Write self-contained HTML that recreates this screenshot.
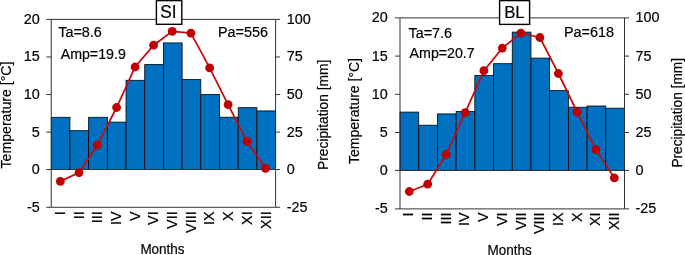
<!DOCTYPE html>
<html><head><meta charset="utf-8"><title>Climate diagrams</title>
<style>
html,body{margin:0;padding:0;background:#fff;}
body{width:685px;height:255px;overflow:hidden;}
svg{display:block;will-change:transform;}
svg text{font-family:"Liberation Sans",sans-serif;font-size:14.4px;fill:#000;stroke:#000;stroke-width:0.18px;}
</style></head><body>
<svg width="685" height="255" viewBox="0 0 685 255">
<rect x="0" y="0" width="685" height="255" fill="#fff"/>
<rect x="51.25" y="117.30" width="18.70" height="52.20" fill="#0070C0" stroke="#000" stroke-width="0.8"/>
<rect x="69.95" y="130.70" width="18.70" height="38.80" fill="#0070C0" stroke="#000" stroke-width="0.8"/>
<rect x="88.64" y="117.30" width="18.70" height="52.20" fill="#0070C0" stroke="#000" stroke-width="0.8"/>
<rect x="107.34" y="122.10" width="18.70" height="47.40" fill="#0070C0" stroke="#000" stroke-width="0.8"/>
<rect x="126.03" y="80.30" width="18.70" height="89.20" fill="#0070C0" stroke="#000" stroke-width="0.8"/>
<rect x="144.73" y="64.60" width="18.70" height="104.90" fill="#0070C0" stroke="#000" stroke-width="0.8"/>
<rect x="163.43" y="42.90" width="18.70" height="126.60" fill="#0070C0" stroke="#000" stroke-width="0.8"/>
<rect x="182.12" y="79.60" width="18.70" height="89.90" fill="#0070C0" stroke="#000" stroke-width="0.8"/>
<rect x="200.82" y="94.40" width="18.70" height="75.10" fill="#0070C0" stroke="#000" stroke-width="0.8"/>
<rect x="219.51" y="117.20" width="18.70" height="52.30" fill="#0070C0" stroke="#000" stroke-width="0.8"/>
<rect x="238.21" y="107.70" width="18.70" height="61.80" fill="#0070C0" stroke="#000" stroke-width="0.8"/>
<rect x="256.90" y="110.90" width="18.70" height="58.60" fill="#0070C0" stroke="#000" stroke-width="0.8"/>
<path d="M51.25 19.40H275.60M51.25 19.40V207.30M275.60 19.40V207.30M51.25 207.30H275.60M51.25 169.50H275.60" stroke="#333" stroke-width="1" fill="none"/>
<path d="M46.25 19.40H51.25M275.60 19.40H280.10" stroke="#333" stroke-width="1"/>
<text transform="translate(39.70 23.80) scale(1 1.035)" text-anchor="end">20</text>
<text transform="translate(286.80 23.80) scale(1 1.035)">100</text>
<path d="M46.25 56.98H51.25M275.60 56.98H280.10" stroke="#333" stroke-width="1"/>
<text transform="translate(39.70 61.38) scale(1 1.035)" text-anchor="end">15</text>
<text transform="translate(286.80 61.38) scale(1 1.035)">75</text>
<path d="M46.25 94.56H51.25M275.60 94.56H280.10" stroke="#333" stroke-width="1"/>
<text transform="translate(39.70 98.96) scale(1 1.035)" text-anchor="end">10</text>
<text transform="translate(286.80 98.96) scale(1 1.035)">50</text>
<path d="M46.25 132.14H51.25M275.60 132.14H280.10" stroke="#333" stroke-width="1"/>
<text transform="translate(39.70 136.54) scale(1 1.035)" text-anchor="end">5</text>
<text transform="translate(286.80 136.54) scale(1 1.035)">25</text>
<path d="M46.25 169.50H51.25M275.60 169.50H280.10" stroke="#333" stroke-width="1"/>
<text transform="translate(39.70 173.90) scale(1 1.035)" text-anchor="end">0</text>
<text transform="translate(286.80 173.90) scale(1 1.035)">0</text>
<path d="M46.25 207.30H51.25M275.60 207.30H280.10" stroke="#333" stroke-width="1"/>
<text transform="translate(39.70 211.70) scale(1 1.035)" text-anchor="end">-5</text>
<text transform="translate(286.80 211.70) scale(1 1.035)">-25</text>
<polyline points="60.40,181.40 79.00,172.60 97.30,145.20 116.60,107.50 135.10,67.00 153.60,45.20 172.20,31.40 190.90,33.10 209.65,67.90 228.10,104.60 247.00,141.30 265.50,168.40" fill="none" stroke="#C50C0C" stroke-width="1.75"/>
<circle cx="60.40" cy="181.40" r="4.4" fill="#C00000"/>
<circle cx="79.00" cy="172.60" r="4.4" fill="#C00000"/>
<circle cx="97.30" cy="145.20" r="4.4" fill="#C00000"/>
<circle cx="116.60" cy="107.50" r="4.4" fill="#C00000"/>
<circle cx="135.10" cy="67.00" r="4.4" fill="#C00000"/>
<circle cx="153.60" cy="45.20" r="4.4" fill="#C00000"/>
<circle cx="172.20" cy="31.40" r="4.4" fill="#C00000"/>
<circle cx="190.90" cy="33.10" r="4.4" fill="#C00000"/>
<circle cx="209.65" cy="67.90" r="4.4" fill="#C00000"/>
<circle cx="228.10" cy="104.60" r="4.4" fill="#C00000"/>
<circle cx="247.00" cy="141.30" r="4.4" fill="#C00000"/>
<circle cx="265.50" cy="168.40" r="4.4" fill="#C00000"/>
<text transform="translate(64.90 211.30) rotate(-90) scale(1 1.035)" text-anchor="end">I</text>
<text transform="translate(83.59 211.30) rotate(-90) scale(1 1.035)" text-anchor="end">II</text>
<text transform="translate(102.29 211.30) rotate(-90) scale(1 1.035)" text-anchor="end">III</text>
<text transform="translate(120.99 211.30) rotate(-90) scale(1 1.035)" text-anchor="end">IV</text>
<text transform="translate(139.68 211.30) rotate(-90) scale(1 1.035)" text-anchor="end">V</text>
<text transform="translate(158.38 211.30) rotate(-90) scale(1 1.035)" text-anchor="end">VI</text>
<text transform="translate(177.07 211.30) rotate(-90) scale(1 1.035)" text-anchor="end">VII</text>
<text transform="translate(195.77 211.30) rotate(-90) scale(1 1.035)" text-anchor="end">VIII</text>
<text transform="translate(214.46 211.30) rotate(-90) scale(1 1.035)" text-anchor="end">IX</text>
<text transform="translate(233.16 211.30) rotate(-90) scale(1 1.035)" text-anchor="end">X</text>
<text transform="translate(251.86 211.30) rotate(-90) scale(1 1.035)" text-anchor="end">XI</text>
<text transform="translate(270.55 211.30) rotate(-90) scale(1 1.035)" text-anchor="end">XII</text>
<rect x="400.00" y="112.10" width="18.71" height="58.30" fill="#0070C0" stroke="#000" stroke-width="0.8"/>
<rect x="418.71" y="125.20" width="18.71" height="45.20" fill="#0070C0" stroke="#000" stroke-width="0.8"/>
<rect x="437.42" y="113.90" width="18.71" height="56.50" fill="#0070C0" stroke="#000" stroke-width="0.8"/>
<rect x="456.12" y="111.40" width="18.71" height="59.00" fill="#0070C0" stroke="#000" stroke-width="0.8"/>
<rect x="474.83" y="75.50" width="18.71" height="94.90" fill="#0070C0" stroke="#000" stroke-width="0.8"/>
<rect x="493.54" y="63.70" width="18.71" height="106.70" fill="#0070C0" stroke="#000" stroke-width="0.8"/>
<rect x="512.25" y="32.10" width="18.71" height="138.30" fill="#0070C0" stroke="#000" stroke-width="0.8"/>
<rect x="530.96" y="58.10" width="18.71" height="112.30" fill="#0070C0" stroke="#000" stroke-width="0.8"/>
<rect x="549.67" y="90.60" width="18.71" height="79.80" fill="#0070C0" stroke="#000" stroke-width="0.8"/>
<rect x="568.38" y="107.20" width="18.71" height="63.20" fill="#0070C0" stroke="#000" stroke-width="0.8"/>
<rect x="587.08" y="106.00" width="18.71" height="64.40" fill="#0070C0" stroke="#000" stroke-width="0.8"/>
<rect x="605.79" y="108.20" width="18.71" height="62.20" fill="#0070C0" stroke="#000" stroke-width="0.8"/>
<path d="M400.00 17.90H624.50M400.00 17.90V208.90M624.50 17.90V208.90M400.00 208.90H624.50M400.00 170.40H624.50" stroke="#333" stroke-width="1" fill="none"/>
<path d="M395.00 17.90H400.00M624.50 17.90H629.00" stroke="#333" stroke-width="1"/>
<text transform="translate(387.80 22.30) scale(1 1.035)" text-anchor="end">20</text>
<text transform="translate(635.40 22.30) scale(1 1.035)">100</text>
<path d="M395.00 56.10H400.00M624.50 56.10H629.00" stroke="#333" stroke-width="1"/>
<text transform="translate(387.80 60.50) scale(1 1.035)" text-anchor="end">15</text>
<text transform="translate(635.40 60.50) scale(1 1.035)">75</text>
<path d="M395.00 94.30H400.00M624.50 94.30H629.00" stroke="#333" stroke-width="1"/>
<text transform="translate(387.80 98.70) scale(1 1.035)" text-anchor="end">10</text>
<text transform="translate(635.40 98.70) scale(1 1.035)">50</text>
<path d="M395.00 132.50H400.00M624.50 132.50H629.00" stroke="#333" stroke-width="1"/>
<text transform="translate(387.80 136.90) scale(1 1.035)" text-anchor="end">5</text>
<text transform="translate(635.40 136.90) scale(1 1.035)">25</text>
<path d="M395.00 170.40H400.00M624.50 170.40H629.00" stroke="#333" stroke-width="1"/>
<text transform="translate(387.80 174.80) scale(1 1.035)" text-anchor="end">0</text>
<text transform="translate(635.40 174.80) scale(1 1.035)">0</text>
<path d="M395.00 208.90H400.00M624.50 208.90H629.00" stroke="#333" stroke-width="1"/>
<text transform="translate(387.80 213.30) scale(1 1.035)" text-anchor="end">-5</text>
<text transform="translate(635.40 213.30) scale(1 1.035)">-25</text>
<polyline points="409.30,191.50 427.70,184.20 446.20,154.50 465.20,112.60 483.90,70.70 502.30,48.10 520.90,33.10 539.90,37.50 558.40,73.50 577.10,112.00 595.90,149.60 614.30,177.80" fill="none" stroke="#C50C0C" stroke-width="1.75"/>
<circle cx="409.30" cy="191.50" r="4.4" fill="#C00000"/>
<circle cx="427.70" cy="184.20" r="4.4" fill="#C00000"/>
<circle cx="446.20" cy="154.50" r="4.4" fill="#C00000"/>
<circle cx="465.20" cy="112.60" r="4.4" fill="#C00000"/>
<circle cx="483.90" cy="70.70" r="4.4" fill="#C00000"/>
<circle cx="502.30" cy="48.10" r="4.4" fill="#C00000"/>
<circle cx="520.90" cy="33.10" r="4.4" fill="#C00000"/>
<circle cx="539.90" cy="37.50" r="4.4" fill="#C00000"/>
<circle cx="558.40" cy="73.50" r="4.4" fill="#C00000"/>
<circle cx="577.10" cy="112.00" r="4.4" fill="#C00000"/>
<circle cx="595.90" cy="149.60" r="4.4" fill="#C00000"/>
<circle cx="614.30" cy="177.80" r="4.4" fill="#C00000"/>
<text transform="translate(413.25 212.40) rotate(-90) scale(1 1.035)" text-anchor="end">I</text>
<text transform="translate(431.96 212.40) rotate(-90) scale(1 1.035)" text-anchor="end">II</text>
<text transform="translate(450.67 212.40) rotate(-90) scale(1 1.035)" text-anchor="end">III</text>
<text transform="translate(469.38 212.40) rotate(-90) scale(1 1.035)" text-anchor="end">IV</text>
<text transform="translate(488.09 212.40) rotate(-90) scale(1 1.035)" text-anchor="end">V</text>
<text transform="translate(506.80 212.40) rotate(-90) scale(1 1.035)" text-anchor="end">VI</text>
<text transform="translate(525.50 212.40) rotate(-90) scale(1 1.035)" text-anchor="end">VII</text>
<text transform="translate(544.21 212.40) rotate(-90) scale(1 1.035)" text-anchor="end">VIII</text>
<text transform="translate(562.92 212.40) rotate(-90) scale(1 1.035)" text-anchor="end">IX</text>
<text transform="translate(581.63 212.40) rotate(-90) scale(1 1.035)" text-anchor="end">X</text>
<text transform="translate(600.34 212.40) rotate(-90) scale(1 1.035)" text-anchor="end">XI</text>
<text transform="translate(619.05 212.40) rotate(-90) scale(1 1.035)" text-anchor="end">XII</text>
<text transform="translate(58.20 36.60) scale(1 1.035)">Ta=8.6</text>
<text transform="translate(60.70 59.00) scale(1 1.035)" style="font-size:14.2px">Amp=19.9</text>
<text transform="translate(218.00 36.50) scale(1 1.035)">Pa=556</text>
<text transform="translate(408.50 38.20) scale(1 1.035)">Ta=7.6</text>
<text transform="translate(409.60 57.80) scale(1 1.035)" style="font-size:14.2px">Amp=20.7</text>
<text transform="translate(564.00 36.90) scale(1 1.035)">Pa=618</text>
<rect x="156.4" y="0.6" width="25.4" height="23.7" fill="#fff" stroke="#000" stroke-width="1.4"/>
<text transform="translate(168.50 18.20) scale(1 1.035)" text-anchor="middle" style="font-size:17.3px">SI</text>
<rect x="499.6" y="0.6" width="30" height="23.8" fill="#fff" stroke="#000" stroke-width="1.4"/>
<text transform="translate(514.40 18.20) scale(1 1.035)" text-anchor="middle" style="font-size:16.8px">BL</text>
<text transform="translate(11.30 168.50) rotate(-90) scale(1 1.035)" style="font-size:14.15px">Temperature [°C]</text>
<text transform="translate(327.90 170.00) rotate(-90) scale(1 1.035)" style="font-size:13.8px">Precipitation [mm]</text>
<text transform="translate(359.30 163.90) rotate(-90) scale(1 1.035)" style="font-size:14.0px">Temperature [°C]</text>
<text transform="translate(682.00 167.60) rotate(-90) scale(1 1.035)" style="font-size:13.7px">Precipitation [mm]</text>
<text transform="translate(162.50 254.20) scale(1 1.035)" text-anchor="middle" style="font-size:13.5px">Months</text>
<text transform="translate(509.70 254.60) scale(1 1.035)" text-anchor="middle" style="font-size:13.5px">Months</text>
</svg>
</body></html>
